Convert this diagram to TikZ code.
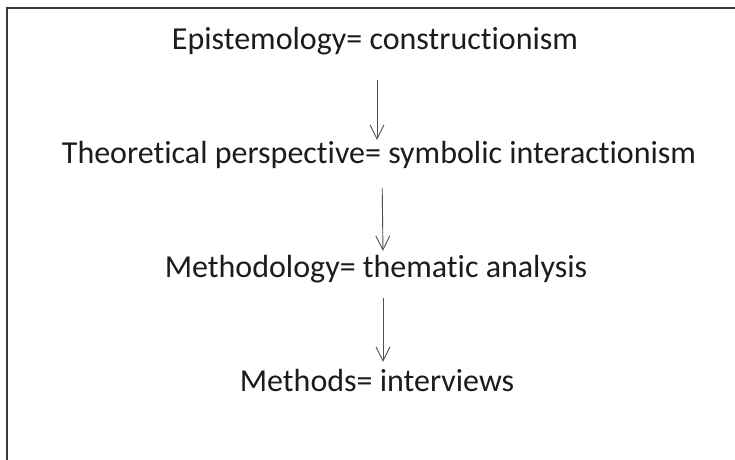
\documentclass[tikz,border=0pt]{standalone}
\usepackage{fontspec}
\setmainfont{Carlito}[Ligatures=NoCommon]
\usetikzlibrary{arrows.meta}
\definecolor{txt}{HTML}{1C1C1C}
\definecolor{frame}{HTML}{3A3A3A}
\definecolor{arr}{HTML}{505050}
\begin{document}
\begin{tikzpicture}[x=1pt,y=-1pt,
  lbl/.style={font=\fontsize{32}{36}\selectfont, text=txt, inner sep=0pt, text height=23pt, text depth=7pt, anchor=base},
  conn/.style={draw=arr, line width=0.9pt, -{Straight Barb[length=14pt,width=14pt,line width=0.9pt]}}]
\useasboundingbox (0,0) rectangle (735,459);
\fill[white] (0,0) rectangle (735,459);
\draw[frame, line width=2pt] (7,470) -- (7,8) -- (745,8);
\node[lbl] (a) at (375,49) {Epistemology= constructionism};
\node[lbl] (b) at (379,163) {Theoretical perspective= symbolic interactionism};
\node[lbl] (c) at (376,277) {Methodology= thematic analysis};
\node[lbl] (d) at (377,391) {Methods= interviews};
\draw[conn, shorten <=24pt, shorten >=0pt] ([xshift=2pt]a.south) -- ([xshift=-2pt]b.north);
\draw[conn, shorten <=18pt, shorten >=3pt] ([xshift=3pt]b.south) -- ([xshift=7pt]c.north);
\draw[conn, shorten <=14pt, shorten >=6pt] ([xshift=7pt]c.south) -- ([xshift=6pt]d.north);
\end{tikzpicture}
\end{document}
